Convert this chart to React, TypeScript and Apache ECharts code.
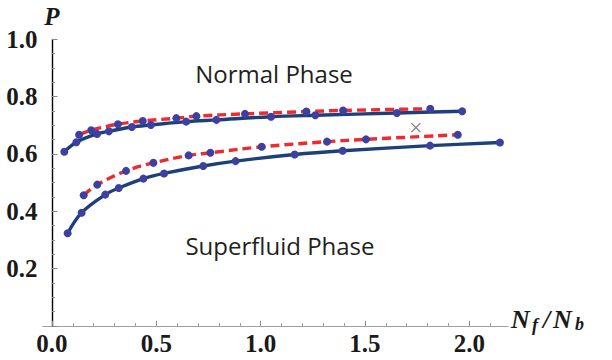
import React, { useEffect, useRef } from "react";
import * as echarts from "echarts";

// Normal-phase boundary (upper curves)
const normalSolidX = [0.059, 0.117, 0.216, 0.273, 0.383, 0.474, 0.643, 0.788, 1.05, 1.262, 1.653, 1.966];
const normalSolidY = [0.608, 0.641, 0.67, 0.679, 0.694, 0.701, 0.713, 0.719, 0.73, 0.735, 0.743, 0.749];
const normalDashedX = [0.13, 0.188, 0.316, 0.435, 0.596, 0.692, 0.925, 1.219, 1.395, 1.813];
const normalDashedY = [0.667, 0.683, 0.704, 0.715, 0.725, 0.732, 0.74, 0.748, 0.752, 0.758];
// Superfluid-phase boundary (lower curves)
const superSolidX = [0.075, 0.142, 0.255, 0.32, 0.438, 0.537, 0.725, 0.88, 1.163, 1.393, 1.812, 2.147];
const superSolidY = [0.323, 0.395, 0.458, 0.481, 0.514, 0.532, 0.558, 0.575, 0.598, 0.611, 0.629, 0.64];
const superDashedX = [0.152, 0.217, 0.355, 0.486, 0.655, 0.759, 1.005, 1.318, 1.505, 1.945];
const superDashedY = [0.456, 0.493, 0.541, 0.569, 0.595, 0.604, 0.625, 0.643, 0.651, 0.667];
const crossX = [1.744];
const crossY = [0.692];

const xMajorTicks = [0, 0.5, 1.0, 1.5, 2.0];
const xMinorTicks = [0.1, 0.2, 0.3, 0.4, 0.6, 0.7, 0.8, 0.9, 1.1, 1.2, 1.3, 1.4, 1.6, 1.7, 1.8, 1.9, 2.1];

const zip = (xs: number[], ys: number[]) => xs.map((x, i) => [x, ys[i]]);

const SERIF = "'Liberation Serif', 'Times New Roman', 'DejaVu Serif', serif";
const SANS = "'Open Sans', 'Noto Sans', sans-serif";
const BLUE = "#1d3f7c";
const RED = "#ee2a2e";
const DOT = "#3d40a0";
const TICK = "#8a8a8a";
const INK = "#1a1a1a";

export default function App() {
  const ref = useRef<HTMLDivElement>(null);
  useEffect(() => {
    if (!ref.current) return;
    const chart = echarts.init(ref.current, undefined, { renderer: "svg" });
    const lineSeries = (xs: number[], ys: number[], color: string, dashed: boolean) => ({
      type: "line",
      data: zip(xs, ys),
      smooth: 0.35,
      showSymbol: false,
      z: 2,
      lineStyle: { color, width: 3.4, type: dashed ? [9, 5] : "solid", cap: "butt" },
    });
    const dotSeries = (xs: number[], ys: number[]) => ({
      type: "scatter",
      data: zip(xs, ys),
      symbol: "circle",
      symbolSize: 8,
      z: 5,
      itemStyle: { color: DOT, opacity: 1 },
    });
    const axisText = (text: string, x: number, y: number, size: number) => ({
      type: "text",
      x,
      y,
      style: { text, font: `italic bold ${size}px ${SERIF}`, fill: INK, align: "left", verticalAlign: "middle" },
    });
    chart.setOption({
      animation: false,
      grid: { left: 42.6, right: 103.7, top: 39.4, bottom: 34.2, containLabel: false },
      xAxis: [
        {
          type: "value",
          min: -0.045,
          max: 2.187,
          position: "bottom",
          axisLine: { show: true, onZero: true, lineStyle: { color: "#a0a0a0", width: 1 } },
          axisTick: { show: true, inside: true, length: 5, customValues: xMajorTicks, lineStyle: { color: TICK, width: 1 } },
          axisLabel: {
            show: true,
            customValues: xMajorTicks,
            formatter: (v: number) => v.toFixed(1),
            margin: 5,
            fontFamily: SERIF,
            fontWeight: "bold",
            fontSize: 25,
            color: INK,
          },
          splitLine: { show: false },
        },
        {
          type: "value",
          min: -0.045,
          max: 2.187,
          position: "bottom",
          axisLine: { show: false },
          axisTick: { show: true, inside: true, length: 2.5, customValues: xMinorTicks, lineStyle: { color: TICK, width: 1 } },
          axisLabel: { show: false },
          splitLine: { show: false },
        },
      ],
      yAxis: {
        type: "value",
        min: 0,
        max: 1,
        interval: 0.2,
        name: "P",
        nameLocation: "end",
        nameGap: 10,
        nameTextStyle: { fontFamily: SERIF, fontWeight: "bold", fontStyle: "italic", fontSize: 25, color: INK },
        axisLine: { show: true, onZero: true, onZeroAxisIndex: 0, lineStyle: { color: "#000", width: 1.4 } },
        axisTick: { show: true, inside: true, length: 5.5, lineStyle: { color: TICK, width: 1 } },
        minorTick: { show: true, splitNumber: 4, length: 3, lineStyle: { color: TICK, width: 1 } },
        axisLabel: {
          showMinLabel: false,
          formatter: (v: number) => v.toFixed(1),
          margin: 5,
          fontFamily: SERIF,
          fontWeight: "bold",
          fontSize: 25,
          color: INK,
        },
        splitLine: { show: false },
      },
      graphic: [
        { type: "text", x: 274, y: 73.5, style: { text: "Normal Phase", font: `400 24px ${SANS}`, fill: "#231f20", align: "center", verticalAlign: "middle" } },
        { type: "text", x: 280, y: 245.5, style: { text: "Superfluid Phase", font: `400 24px ${SANS}`, fill: "#231f20", align: "center", verticalAlign: "middle" } },
        axisText("N", 511, 319.5, 26),
        axisText("f", 532, 325, 18),
        axisText("/", 543, 319.5, 26),
        axisText("N", 553, 319.5, 26),
        axisText("b", 575, 324, 18),
      ],
      series: [
        lineSeries(normalSolidX, normalSolidY, BLUE, false),
        lineSeries(normalDashedX, normalDashedY, RED, true),
        lineSeries(superSolidX, superSolidY, BLUE, false),
        lineSeries(superDashedX, superDashedY, RED, true),
        dotSeries(normalSolidX, normalSolidY),
        dotSeries(normalDashedX, normalDashedY),
        dotSeries(superSolidX, superSolidY),
        dotSeries(superDashedX, superDashedY),
        {
          type: "scatter",
          data: zip(crossX, crossY),
          symbol: "path://M0,0L10,10M10,0L0,10",
          symbolSize: 9,
          z: 5,
          itemStyle: { color: "none", borderColor: "#555", borderWidth: 1.2 },
        },
      ],
    });
    return () => chart.dispose();
  }, []);
  return (
    <div style={{ position: "fixed", left: 0, top: 0, width: 612, height: 360, background: "#fff" }}>
      <div ref={ref} style={{ width: 612, height: 360 }} />
    </div>
  );
}
